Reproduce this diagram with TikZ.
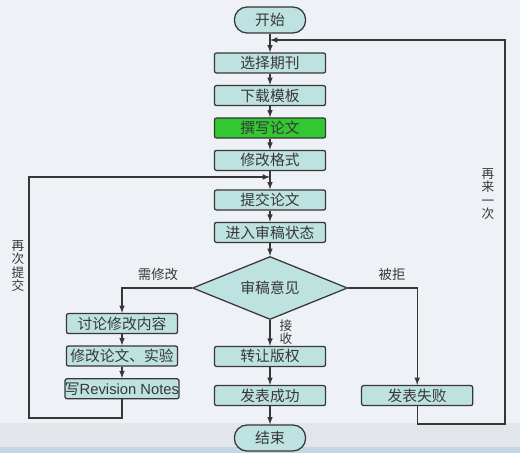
\documentclass[tikz,border=0pt]{standalone}
\usepackage{fontspec}
\setmainfont{Noto Sans CJK SC}
\newfontfamily\rnfont{Liberation Sans}
\usepackage{tikz}
\usetikzlibrary{calc}
\usetikzlibrary{arrows}
\usetikzlibrary{shapes.geometric}
\usepackage{color}
\definecolor{paper}{RGB}{238, 241, 246}
\definecolor{band}{RGB}{226, 230, 234}
\definecolor{strip}{RGB}{197, 214, 232}
\definecolor{tealbox}{RGB}{190, 226, 224}
\definecolor{leafgreen}{RGB}{50, 200, 50}
\definecolor{inkgray}{RGB}{55, 55, 55}
\tikzset{
    stepbox/.style   = {draw=inkgray, fill=tealbox, line width=0.9pt, rounded corners=1.5pt,
                        minimum width=2.78cm, minimum height=0.5cm, inner sep=0pt,
                        text=inkgray, font=\fontsize{10.5}{12}\selectfont},
    termbox/.style   = {stepbox, minimum width=1.78cm, minimum height=0.65cm, rounded corners=9pt},
    decision/.style  = {draw=inkgray, fill=tealbox, line width=0.9pt, diamond, aspect=2.46,
                        minimum width=3.875cm, minimum height=1.575cm, inner sep=0pt,
                        text=inkgray, font=\fontsize{10.5}{12}\selectfont},
    flowline/.style  = {draw=inkgray, line width=0.8pt, -latex},
    sidenote/.style  = {text=inkgray, font=\fontsize{9.5}{12}\selectfont},
    vertnote/.style  = {sidenote, align=center, font=\fontsize{9}{9.6}\selectfont}
}

\begin{document}
\begin{tikzpicture}
            % Background and bottom band:
            \fill[color=paper]                                         ( 0.000,   0.000) rectangle (13.000, -11.325);
            \fill[color=band]                                          ( 0.000, -10.575) rectangle (13.000, -11.175);
            \fill[color=strip]                                         ( 0.000, -11.175) rectangle (13.000, -11.325);

            % Main column:
            \node[termbox]                          (start)    at ( 6.75, -0.500) {开始};
            \node[stepbox]                          (journal)  at ( 6.75, -1.575) {选择期刊};
            \node[stepbox]                          (template) at ( 6.75, -2.390) {下载模板};
            \node[stepbox, fill=leafgreen]          (write)    at ( 6.75, -3.200) {撰写论文};
            \node[stepbox]                          (format)   at ( 6.75, -4.010) {修改格式};
            \node[stepbox]                          (submit)   at ( 6.75, -5.000) {提交论文};
            \node[stepbox]                          (status)   at ( 6.75, -5.810) {进入审稿状态};
            \node[decision]                         (review)   at ( 6.75, -7.200) {审稿意见};
            \node[stepbox]                          (rights)   at ( 6.75, -8.910) {转让版权};
            \node[stepbox]                          (success)  at ( 6.75, -9.890) {发表成功};
            \node[termbox]                          (finish)   at ( 6.75, -10.950) {结束};

            % Revision column and rejection:
            \node[stepbox]                          (discuss)  at ( 3.05, -8.090) {讨论修改内容};
            \node[stepbox]                          (revise)   at ( 3.05, -8.900) {修改论文、实验};
            \node[stepbox]                          (notes)    at ( 3.05, -9.720) {写{\rnfont\fontsize{10.5}{12}\selectfont Revision Notes}};
            \node[stepbox]                          (fail)     at (10.43, -9.890) {发表失败};

            % Loop corners:
            \coordinate (backL) at ( 0.725, -10.450);
            \coordinate (joinL) at ( 6.750,  -4.425);
            \coordinate (backR) at (12.625, -10.600);
            \coordinate (joinR) at ( 6.750,  -1.000);

            % Straight flow:
            \foreach \from/\to in {start/journal, journal/template, template/write, write/format,
                                   format/submit, submit/status, status/review, review/rights,
                                   rights/success, success/finish, discuss/revise, revise/notes}
                \draw[flowline] (\from) -- (\to);

            % Branches and loops:
            \draw[flowline] (review.west) -| (discuss.north);
            \draw[flowline] (review.east) -| (fail.north);
            \draw[flowline] (notes.south) |- (backL) |- (joinL);
            \draw[flowline] (fail.south)  |- (backR) |- (joinR);

            % Labels:
            \node[sidenote]                         (needfix)  at ( 3.95, -6.850) {需修改};
            \node[sidenote]                         (reject)   at ( 9.80, -6.850) {被拒};
            \node[vertnote]                         (accept)   at ( 7.15, -8.300) {接\\收};
            \node[vertnote]                         (resub)    at ( 0.45, -6.650) {再\\次\\提\\交};
            \node[vertnote]                         (retry)    at (12.20, -4.850) {再\\来\\一\\次};
        \end{tikzpicture}
\end{document}
